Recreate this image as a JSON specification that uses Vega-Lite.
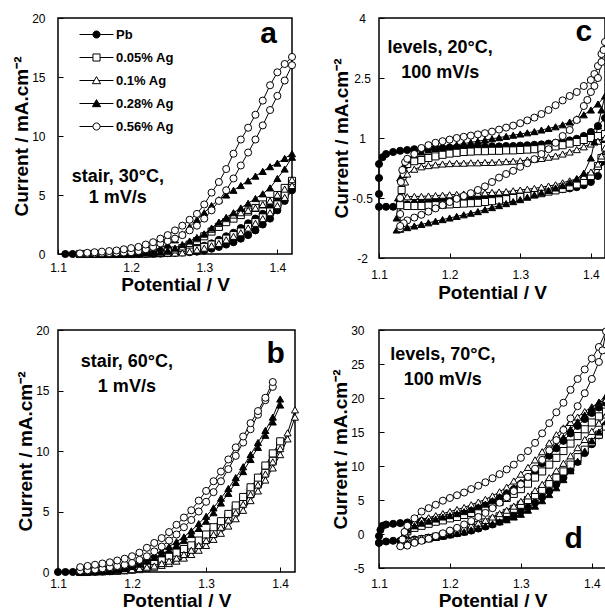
{
"$schema": "https://vega.github.io/schema/vega-lite/v6.json",
"background": "white",
"padding": {"left": 11, "top": 11, "right": 0, "bottom": 0},
"columns": 2,
"spacing": {"row": 20, "column": 28},
"resolve": {"scale": {"shape": "independent", "fill": "independent", "stroke": "independent"}, "legend": {"shape": "independent", "fill": "independent", "stroke": "independent"}},
"config": {
 "view": {"stroke": "black", "strokeWidth": 1.5},
 "font": "Liberation Sans",
 "text": {"font": "Liberation Sans"},
 "axis": {"grid": false, "domain": false, "ticks": true, "tickSize": -5, "tickColor": "black", "tickWidth": 1, "labelFont": "Liberation Sans", "labelFontSize": 12, "labelColor": "black", "titleFont": "Liberation Sans", "titleFontSize": 19, "titleFontWeight": "bold", "titleColor": "black", "labelFlush": false, "labelOverlap": false},
 "axisX": {"titlePadding": 2},
 "axisY": {"titlePadding": 0}
},
"concat": [
{
 "width": 234, "height": 236,
 "data": {"name": "a"},
 "resolve": {"scale": {"shape": "independent", "fill": "independent", "stroke": "independent"}, "legend": {"shape": "independent", "fill": "independent", "stroke": "independent"}},
 "encoding": {
  "x": {"field": "x", "type": "quantitative", "scale": {"domain": [1.1, 1.42], "nice": false, "zero": false}, "axis": {"values": [1.1, 1.2, 1.3, 1.4], "format": ".1f", "title": "Potential / V", "labelPadding": 13}},
  "y": {"field": "y", "type": "quantitative", "scale": {"domain": [0, 20], "nice": false}, "axis": {"values": [0, 5, 10, 15, 20], "title": "Current / mA.cm⁻²", "labelPadding": 18}}
 },
 "layer": [
  {"mark": {"type": "line", "color": "black", "strokeWidth": 1}, "encoding": {"detail": {"field": "s"}, "order": {"value": null}}},
  {"mark": {"type": "point", "filled": true, "stroke": "black", "strokeWidth": 1, "size": 50, "opacity": 1},
   "encoding": {
    "shape": {"field": "s", "type": "nominal", "scale": {"domain": ["Pb", "0.05% Ag", "0.1% Ag", "0.28% Ag", "0.56% Ag"], "range": ["circle", "square", "triangle-up", "triangle-up", "circle"]}, "legend": null},
    "fill": {"field": "s", "type": "nominal", "scale": {"domain": ["Pb", "0.05% Ag", "0.1% Ag", "0.28% Ag", "0.56% Ag"], "range": ["black", "white", "white", "black", "white"]}, "legend": null}
   }},
  {"data": {"values": [{"g": "Pb"}, {"g": "0.05% Ag"}, {"g": "0.1% Ag"}, {"g": "0.28% Ag"}, {"g": "0.56% Ag"}]},
   "mark": {"type": "point", "filled": true, "strokeWidth": 1, "size": 50, "opacity": 0},
   "encoding": {
    "shape": {"field": "g", "type": "nominal", "scale": {"domain": ["Pb", "0.05% Ag", "0.1% Ag", "0.28% Ag", "0.56% Ag"], "range": ["M-4.8,0H-1M1,0H4.8M-1,0A1,1 0 1,0 1,0A1,1 0 1,0 -1,0Z", "M-4.8,0H-1M1,0H4.8M-1,-1H1V1H-1Z", "M-4.8,0H-0.6M0.6,0H4.8M0,-1.1L1.15,0.9H-1.15Z", "M-4.8,0H-0.6M0.6,0H4.8M0,-1.1L1.15,0.9H-1.15Z", "M-4.8,0H-1M1,0H4.8M-1,0A1,1 0 1,0 1,0A1,1 0 1,0 -1,0Z"]},
      "legend": {"title": null, "orient": "none", "legendX": 32, "legendY": 10, "labelFont": "Liberation Sans", "labelFontWeight": "bold", "labelFontSize": 13, "labelColor": "black", "symbolSize": 50, "symbolStrokeWidth": 1, "symbolOpacity": 1, "labelOffset": 13, "rowPadding": 9}},
    "fill": {"field": "g", "type": "nominal", "scale": {"domain": ["Pb", "0.05% Ag", "0.1% Ag", "0.28% Ag", "0.56% Ag"], "range": ["black", "white", "white", "black", "white"]},
      "legend": {"title": null, "orient": "none", "legendX": 32, "legendY": 10, "labelFont": "Liberation Sans", "labelFontWeight": "bold", "labelFontSize": 13, "labelColor": "black", "symbolSize": 50, "symbolStrokeWidth": 1, "symbolOpacity": 1, "labelOffset": 13, "rowPadding": 9}},
    "stroke": {"field": "g", "type": "nominal", "scale": {"domain": ["Pb", "0.05% Ag", "0.1% Ag", "0.28% Ag", "0.56% Ag"], "range": ["black", "black", "black", "black", "black"]},
      "legend": {"title": null, "orient": "none", "legendX": 32, "legendY": 10, "labelFont": "Liberation Sans", "labelFontWeight": "bold", "labelFontSize": 13, "labelColor": "black", "symbolSize": 50, "symbolStrokeWidth": 1, "symbolOpacity": 1, "labelOffset": 13, "rowPadding": 9}}
   }},
  {"data": {"values": [{"t": "stair, 30°C,\n1 mV/s", "x": 1.1818, "y": 6.5}, {"t": "a", "x": 1.388, "y": 18.64}]},
   "mark": {"type": "text", "fontWeight": "bold", "lineHeight": 21, "lineBreak": "\n", "align": "center", "baseline": "middle", "color": "black"},
   "encoding": {"text": {"field": "t", "type": "nominal"}, "size": {"condition": {"test": "datum.t === 'a'", "value": 30}, "value": 18}}}
 ]
},
{
 "width": 226, "height": 240,
 "data": {"name": "c"},
 "encoding": {
  "x": {"field": "x", "type": "quantitative", "scale": {"domain": [1.1, 1.42], "nice": false, "zero": false}, "axis": {"values": [1.1, 1.2, 1.3, 1.4], "format": ".1f", "title": "Potential / V", "labelPadding": 16, "titlePadding": 3}},
  "y": {"field": "y", "type": "quantitative", "scale": {"domain": [-2, 4], "nice": false, "zero": false}, "axis": {"values": [-2, -0.5, 1, 2.5, 4], "labelExpr": "'' + datum.value", "labelAlign": "center", "title": "Current / mA.cm⁻²", "labelPadding": 22}}
 },
 "layer": [
  {"mark": {"type": "line", "color": "black", "strokeWidth": 1}, "encoding": {"detail": {"field": "s"}, "order": {"value": null}}},
  {"mark": {"type": "point", "filled": true, "stroke": "black", "strokeWidth": 1, "size": 50, "opacity": 1},
   "encoding": {
    "shape": {"field": "s", "type": "nominal", "scale": {"domain": ["Pb", "0.05% Ag", "0.1% Ag", "0.28% Ag", "0.56% Ag"], "range": ["circle", "square", "triangle-up", "triangle-up", "circle"]}, "legend": null},
    "fill": {"field": "s", "type": "nominal", "scale": {"domain": ["Pb", "0.05% Ag", "0.1% Ag", "0.28% Ag", "0.56% Ag"], "range": ["black", "white", "white", "black", "white"]}, "legend": null}
   }},
  {"data": {"values": [{"t": "levels, 20°C,\n100 mV/s", "x": 1.1866, "y": 3.25}, {"t": "c", "x": 1.39, "y": 3.65}]},
   "mark": {"type": "text", "fontWeight": "bold", "lineHeight": 25, "lineBreak": "\n", "align": "center", "baseline": "middle", "color": "black"},
   "encoding": {"text": {"field": "t", "type": "nominal"}, "size": {"condition": {"test": "datum.t === 'c'", "value": 30}, "value": 18}}}
 ]
},
{
 "width": 237, "height": 242,
 "data": {"name": "b"},
 "encoding": {
  "x": {"field": "x", "type": "quantitative", "scale": {"domain": [1.1, 1.42], "nice": false, "zero": false}, "axis": {"values": [1.1, 1.2, 1.3, 1.4], "format": ".1f", "title": "Potential / V", "labelPadding": 11}},
  "y": {"field": "y", "type": "quantitative", "scale": {"domain": [0, 20], "nice": false}, "axis": {"values": [0, 5, 10, 15, 20], "title": "Current / mA.cm⁻²", "labelPadding": 14}}
 },
 "layer": [
  {"mark": {"type": "line", "color": "black", "strokeWidth": 1}, "encoding": {"detail": {"field": "s"}, "order": {"value": null}}},
  {"mark": {"type": "point", "filled": true, "stroke": "black", "strokeWidth": 1, "size": 50, "opacity": 1},
   "encoding": {
    "shape": {"field": "s", "type": "nominal", "scale": {"domain": ["Pb", "0.05% Ag", "0.1% Ag", "0.28% Ag", "0.56% Ag"], "range": ["circle", "square", "triangle-up", "triangle-up", "circle"]}, "legend": null},
    "fill": {"field": "s", "type": "nominal", "scale": {"domain": ["Pb", "0.05% Ag", "0.1% Ag", "0.28% Ag", "0.56% Ag"], "range": ["black", "white", "white", "black", "white"]}, "legend": null}
   }},
  {"data": {"values": [{"t": "stair, 60°C,\n1 mV/s", "x": 1.193, "y": 17.35}, {"t": "b", "x": 1.394, "y": 18.0}]},
   "mark": {"type": "text", "fontWeight": "bold", "lineHeight": 25, "lineBreak": "\n", "align": "center", "baseline": "middle", "color": "black"},
   "encoding": {"text": {"field": "t", "type": "nominal"}, "size": {"condition": {"test": "datum.t === 'b'", "value": 30}, "value": 18}}}
 ]
},
{
 "width": 227, "height": 238,
 "data": {"name": "d"},
 "encoding": {
  "x": {"field": "x", "type": "quantitative", "scale": {"domain": [1.1, 1.42], "nice": false, "zero": false}, "axis": {"values": [1.1, 1.2, 1.3, 1.4], "format": ".1f", "title": "Potential / V", "labelPadding": 15}},
  "y": {"field": "y", "type": "quantitative", "scale": {"domain": [-5, 30], "nice": false, "zero": false}, "axis": {"values": [-5, 0, 5, 10, 15, 20, 25, 30], "labelExpr": "'' + datum.value", "title": "Current / mA.cm⁻²", "labelPadding": 20}}
 },
 "layer": [
  {"mark": {"type": "line", "color": "black", "strokeWidth": 1}, "encoding": {"detail": {"field": "s"}, "order": {"value": null}}},
  {"mark": {"type": "point", "filled": true, "stroke": "black", "strokeWidth": 1, "size": 50, "opacity": 1},
   "encoding": {
    "shape": {"field": "s", "type": "nominal", "scale": {"domain": ["Pb", "0.05% Ag", "0.1% Ag", "0.28% Ag", "0.56% Ag"], "range": ["circle", "square", "triangle-up", "triangle-up", "circle"]}, "legend": null},
    "fill": {"field": "s", "type": "nominal", "scale": {"domain": ["Pb", "0.05% Ag", "0.1% Ag", "0.28% Ag", "0.56% Ag"], "range": ["black", "white", "white", "black", "white"]}, "legend": null}
   }},
  {"data": {"values": [{"t": "levels, 70°C,\n100 mV/s", "x": 1.19, "y": 26.3}, {"t": "d", "x": 1.3745, "y": -0.74}]},
   "mark": {"type": "text", "fontWeight": "bold", "lineHeight": 25, "lineBreak": "\n", "align": "center", "baseline": "middle", "color": "black"},
   "encoding": {"text": {"field": "t", "type": "nominal"}, "size": {"condition": {"test": "datum.t === 'd'", "value": 30}, "value": 18}}}
 ]
}
],
"datasets": {
"a": [
{"s":"Pb","x":1.11,"y":0},{"s":"Pb","x":1.12,"y":0},{"s":"Pb","x":1.13,"y":0},{"s":"Pb","x":1.14,"y":0},{"s":"Pb","x":1.15,"y":0},{"s":"Pb","x":1.16,"y":0},{"s":"Pb","x":1.17,"y":0},{"s":"Pb","x":1.18,"y":0},{"s":"Pb","x":1.19,"y":0},{"s":"Pb","x":1.2,"y":0},{"s":"Pb","x":1.21,"y":0},{"s":"Pb","x":1.22,"y":0.02},{"s":"Pb","x":1.23,"y":0.03},{"s":"Pb","x":1.24,"y":0.05},{"s":"Pb","x":1.25,"y":0.07},{"s":"Pb","x":1.26,"y":0.1},{"s":"Pb","x":1.27,"y":0.12},{"s":"Pb","x":1.28,"y":0.15},{"s":"Pb","x":1.29,"y":0.2},{"s":"Pb","x":1.3,"y":0.3},{"s":"Pb","x":1.31,"y":0.45},{"s":"Pb","x":1.32,"y":0.6},{"s":"Pb","x":1.33,"y":0.8},{"s":"Pb","x":1.34,"y":1.0},{"s":"Pb","x":1.35,"y":1.3},{"s":"Pb","x":1.36,"y":1.6},{"s":"Pb","x":1.37,"y":2.0},{"s":"Pb","x":1.38,"y":2.5},{"s":"Pb","x":1.39,"y":3.0},{"s":"Pb","x":1.4,"y":3.7},{"s":"Pb","x":1.41,"y":4.5},{"s":"Pb","x":1.42,"y":5.4},
{"s":"Pb","x":1.42,"y":5.7},{"s":"Pb","x":1.41,"y":5.0},{"s":"Pb","x":1.4,"y":4.4},{"s":"Pb","x":1.39,"y":3.9},{"s":"Pb","x":1.38,"y":3.4},{"s":"Pb","x":1.37,"y":3.0},{"s":"Pb","x":1.36,"y":2.6},{"s":"Pb","x":1.35,"y":2.2},{"s":"Pb","x":1.34,"y":1.8},{"s":"Pb","x":1.33,"y":1.5},{"s":"Pb","x":1.32,"y":1.2},{"s":"Pb","x":1.31,"y":0.9},{"s":"Pb","x":1.3,"y":0.7},{"s":"Pb","x":1.29,"y":0.5},{"s":"Pb","x":1.28,"y":0.35},{"s":"Pb","x":1.27,"y":0.2},{"s":"Pb","x":1.26,"y":0.12},{"s":"Pb","x":1.25,"y":0.08},{"s":"Pb","x":1.24,"y":0.05},
{"s":"0.05% Ag","x":1.13,"y":0},{"s":"0.05% Ag","x":1.14,"y":0},{"s":"0.05% Ag","x":1.15,"y":0},{"s":"0.05% Ag","x":1.16,"y":0},{"s":"0.05% Ag","x":1.17,"y":0},{"s":"0.05% Ag","x":1.18,"y":0},{"s":"0.05% Ag","x":1.19,"y":0},{"s":"0.05% Ag","x":1.2,"y":0},{"s":"0.05% Ag","x":1.21,"y":0.02},{"s":"0.05% Ag","x":1.22,"y":0.03},{"s":"0.05% Ag","x":1.23,"y":0.05},{"s":"0.05% Ag","x":1.24,"y":0.07},{"s":"0.05% Ag","x":1.25,"y":0.1},{"s":"0.05% Ag","x":1.26,"y":0.15},{"s":"0.05% Ag","x":1.27,"y":0.2},{"s":"0.05% Ag","x":1.28,"y":0.3},{"s":"0.05% Ag","x":1.29,"y":0.4},{"s":"0.05% Ag","x":1.3,"y":0.6},{"s":"0.05% Ag","x":1.31,"y":0.8},{"s":"0.05% Ag","x":1.32,"y":1.0},{"s":"0.05% Ag","x":1.33,"y":1.3},{"s":"0.05% Ag","x":1.34,"y":1.6},{"s":"0.05% Ag","x":1.35,"y":1.9},{"s":"0.05% Ag","x":1.36,"y":2.3},{"s":"0.05% Ag","x":1.37,"y":2.7},{"s":"0.05% Ag","x":1.38,"y":3.1},{"s":"0.05% Ag","x":1.39,"y":3.6},{"s":"0.05% Ag","x":1.4,"y":4.2},{"s":"0.05% Ag","x":1.41,"y":5.0},{"s":"0.05% Ag","x":1.42,"y":6.0},
{"s":"0.05% Ag","x":1.42,"y":6.2},{"s":"0.05% Ag","x":1.41,"y":5.6},{"s":"0.05% Ag","x":1.4,"y":5.0},{"s":"0.05% Ag","x":1.39,"y":4.5},{"s":"0.05% Ag","x":1.38,"y":4.2},{"s":"0.05% Ag","x":1.37,"y":3.9},{"s":"0.05% Ag","x":1.36,"y":3.6},{"s":"0.05% Ag","x":1.35,"y":3.3},{"s":"0.05% Ag","x":1.34,"y":3.0},{"s":"0.05% Ag","x":1.33,"y":2.7},{"s":"0.05% Ag","x":1.32,"y":2.3},{"s":"0.05% Ag","x":1.31,"y":1.9},{"s":"0.05% Ag","x":1.3,"y":1.5},{"s":"0.05% Ag","x":1.29,"y":1.1},{"s":"0.05% Ag","x":1.28,"y":0.8},{"s":"0.05% Ag","x":1.27,"y":0.5},{"s":"0.05% Ag","x":1.26,"y":0.3},{"s":"0.05% Ag","x":1.25,"y":0.2},{"s":"0.05% Ag","x":1.24,"y":0.12},{"s":"0.05% Ag","x":1.23,"y":0.08},
{"s":"0.1% Ag","x":1.13,"y":0},{"s":"0.1% Ag","x":1.14,"y":0},{"s":"0.1% Ag","x":1.15,"y":0},{"s":"0.1% Ag","x":1.16,"y":0},{"s":"0.1% Ag","x":1.17,"y":0},{"s":"0.1% Ag","x":1.18,"y":0},{"s":"0.1% Ag","x":1.19,"y":0},{"s":"0.1% Ag","x":1.2,"y":0},{"s":"0.1% Ag","x":1.21,"y":0},{"s":"0.1% Ag","x":1.22,"y":0},{"s":"0.1% Ag","x":1.23,"y":0.02},{"s":"0.1% Ag","x":1.24,"y":0.04},{"s":"0.1% Ag","x":1.25,"y":0.06},{"s":"0.1% Ag","x":1.26,"y":0.08},{"s":"0.1% Ag","x":1.27,"y":0.1},{"s":"0.1% Ag","x":1.28,"y":0.2},{"s":"0.1% Ag","x":1.29,"y":0.35},{"s":"0.1% Ag","x":1.3,"y":0.5},{"s":"0.1% Ag","x":1.31,"y":0.7},{"s":"0.1% Ag","x":1.32,"y":0.9},{"s":"0.1% Ag","x":1.33,"y":1.2},{"s":"0.1% Ag","x":1.34,"y":1.5},{"s":"0.1% Ag","x":1.35,"y":1.8},{"s":"0.1% Ag","x":1.36,"y":2.2},{"s":"0.1% Ag","x":1.37,"y":2.6},{"s":"0.1% Ag","x":1.38,"y":3.0},{"s":"0.1% Ag","x":1.39,"y":3.5},{"s":"0.1% Ag","x":1.4,"y":4.1},{"s":"0.1% Ag","x":1.41,"y":4.8},{"s":"0.1% Ag","x":1.42,"y":5.8},
{"s":"0.1% Ag","x":1.42,"y":6.3},{"s":"0.1% Ag","x":1.41,"y":5.5},{"s":"0.1% Ag","x":1.4,"y":5.0},{"s":"0.1% Ag","x":1.39,"y":4.5},{"s":"0.1% Ag","x":1.38,"y":4.2},{"s":"0.1% Ag","x":1.37,"y":3.9},{"s":"0.1% Ag","x":1.36,"y":3.7},{"s":"0.1% Ag","x":1.35,"y":3.5},{"s":"0.1% Ag","x":1.34,"y":3.3},{"s":"0.1% Ag","x":1.33,"y":3.0},{"s":"0.1% Ag","x":1.32,"y":2.6},{"s":"0.1% Ag","x":1.31,"y":2.1},{"s":"0.1% Ag","x":1.3,"y":1.7},{"s":"0.1% Ag","x":1.29,"y":1.3},{"s":"0.1% Ag","x":1.28,"y":0.9},{"s":"0.1% Ag","x":1.27,"y":0.6},{"s":"0.1% Ag","x":1.26,"y":0.35},{"s":"0.1% Ag","x":1.25,"y":0.2},{"s":"0.1% Ag","x":1.24,"y":0.1},{"s":"0.1% Ag","x":1.23,"y":0.05},
{"s":"0.28% Ag","x":1.13,"y":0},{"s":"0.28% Ag","x":1.14,"y":0},{"s":"0.28% Ag","x":1.15,"y":0},{"s":"0.28% Ag","x":1.16,"y":0},{"s":"0.28% Ag","x":1.17,"y":0},{"s":"0.28% Ag","x":1.18,"y":0},{"s":"0.28% Ag","x":1.19,"y":0.01},{"s":"0.28% Ag","x":1.2,"y":0.02},{"s":"0.28% Ag","x":1.21,"y":0.05},{"s":"0.28% Ag","x":1.22,"y":0.08},{"s":"0.28% Ag","x":1.23,"y":0.12},{"s":"0.28% Ag","x":1.24,"y":0.18},{"s":"0.28% Ag","x":1.25,"y":0.3},{"s":"0.28% Ag","x":1.26,"y":0.5},{"s":"0.28% Ag","x":1.27,"y":0.8},{"s":"0.28% Ag","x":1.28,"y":1.1},{"s":"0.28% Ag","x":1.29,"y":1.4},{"s":"0.28% Ag","x":1.3,"y":1.7},{"s":"0.28% Ag","x":1.31,"y":2.2},{"s":"0.28% Ag","x":1.32,"y":2.7},{"s":"0.28% Ag","x":1.33,"y":3.1},{"s":"0.28% Ag","x":1.34,"y":3.5},{"s":"0.28% Ag","x":1.35,"y":3.9},{"s":"0.28% Ag","x":1.36,"y":4.3},{"s":"0.28% Ag","x":1.37,"y":4.7},{"s":"0.28% Ag","x":1.38,"y":5.1},{"s":"0.28% Ag","x":1.39,"y":5.6},{"s":"0.28% Ag","x":1.4,"y":6.4},{"s":"0.28% Ag","x":1.41,"y":7.2},{"s":"0.28% Ag","x":1.42,"y":8.2},
{"s":"0.28% Ag","x":1.42,"y":8.5},{"s":"0.28% Ag","x":1.41,"y":8.1},{"s":"0.28% Ag","x":1.4,"y":7.7},{"s":"0.28% Ag","x":1.39,"y":7.4},{"s":"0.28% Ag","x":1.38,"y":7.0},{"s":"0.28% Ag","x":1.37,"y":6.6},{"s":"0.28% Ag","x":1.36,"y":6.2},{"s":"0.28% Ag","x":1.35,"y":5.8},{"s":"0.28% Ag","x":1.34,"y":5.4},{"s":"0.28% Ag","x":1.33,"y":5.0},{"s":"0.28% Ag","x":1.32,"y":4.6},{"s":"0.28% Ag","x":1.31,"y":4.1},{"s":"0.28% Ag","x":1.3,"y":3.5},{"s":"0.28% Ag","x":1.29,"y":2.9},{"s":"0.28% Ag","x":1.28,"y":2.3},{"s":"0.28% Ag","x":1.27,"y":1.7},{"s":"0.28% Ag","x":1.26,"y":1.2},{"s":"0.28% Ag","x":1.25,"y":0.8},{"s":"0.28% Ag","x":1.24,"y":0.5},{"s":"0.28% Ag","x":1.23,"y":0.35},{"s":"0.28% Ag","x":1.22,"y":0.25},{"s":"0.28% Ag","x":1.21,"y":0.15},{"s":"0.28% Ag","x":1.2,"y":0.1},
{"s":"0.56% Ag","x":1.13,"y":0},{"s":"0.56% Ag","x":1.14,"y":0.02},{"s":"0.56% Ag","x":1.15,"y":0.04},{"s":"0.56% Ag","x":1.16,"y":0.06},{"s":"0.56% Ag","x":1.17,"y":0.08},{"s":"0.56% Ag","x":1.18,"y":0.1},{"s":"0.56% Ag","x":1.19,"y":0.12},{"s":"0.56% Ag","x":1.2,"y":0.15},{"s":"0.56% Ag","x":1.21,"y":0.25},{"s":"0.56% Ag","x":1.22,"y":0.4},{"s":"0.56% Ag","x":1.23,"y":0.6},{"s":"0.56% Ag","x":1.24,"y":0.9},{"s":"0.56% Ag","x":1.25,"y":1.1},{"s":"0.56% Ag","x":1.26,"y":1.3},{"s":"0.56% Ag","x":1.27,"y":1.6},{"s":"0.56% Ag","x":1.28,"y":2.0},{"s":"0.56% Ag","x":1.29,"y":2.4},{"s":"0.56% Ag","x":1.3,"y":3.0},{"s":"0.56% Ag","x":1.31,"y":3.7},{"s":"0.56% Ag","x":1.32,"y":4.5},{"s":"0.56% Ag","x":1.33,"y":5.4},{"s":"0.56% Ag","x":1.34,"y":6.4},{"s":"0.56% Ag","x":1.35,"y":7.5},{"s":"0.56% Ag","x":1.36,"y":8.6},{"s":"0.56% Ag","x":1.37,"y":9.7},{"s":"0.56% Ag","x":1.38,"y":10.9},{"s":"0.56% Ag","x":1.39,"y":12.2},{"s":"0.56% Ag","x":1.4,"y":13.4},{"s":"0.56% Ag","x":1.41,"y":14.7},{"s":"0.56% Ag","x":1.42,"y":16.0},
{"s":"0.56% Ag","x":1.42,"y":16.7},{"s":"0.56% Ag","x":1.41,"y":16.1},{"s":"0.56% Ag","x":1.4,"y":15.4},{"s":"0.56% Ag","x":1.39,"y":14.3},{"s":"0.56% Ag","x":1.38,"y":13.0},{"s":"0.56% Ag","x":1.37,"y":11.8},{"s":"0.56% Ag","x":1.36,"y":10.7},{"s":"0.56% Ag","x":1.35,"y":9.7},{"s":"0.56% Ag","x":1.34,"y":8.5},{"s":"0.56% Ag","x":1.33,"y":7.2},{"s":"0.56% Ag","x":1.32,"y":6.1},{"s":"0.56% Ag","x":1.31,"y":5.2},{"s":"0.56% Ag","x":1.3,"y":4.2},{"s":"0.56% Ag","x":1.29,"y":3.4},{"s":"0.56% Ag","x":1.28,"y":2.9},{"s":"0.56% Ag","x":1.27,"y":2.4},{"s":"0.56% Ag","x":1.26,"y":2.0},{"s":"0.56% Ag","x":1.25,"y":1.6},{"s":"0.56% Ag","x":1.24,"y":1.3},{"s":"0.56% Ag","x":1.23,"y":1.0},{"s":"0.56% Ag","x":1.22,"y":0.8},{"s":"0.56% Ag","x":1.21,"y":0.6},{"s":"0.56% Ag","x":1.2,"y":0.5},{"s":"0.56% Ag","x":1.19,"y":0.4},{"s":"0.56% Ag","x":1.18,"y":0.3},{"s":"0.56% Ag","x":1.17,"y":0.25},{"s":"0.56% Ag","x":1.16,"y":0.2},{"s":"0.56% Ag","x":1.15,"y":0.15},{"s":"0.56% Ag","x":1.14,"y":0.1},{"s":"0.56% Ag","x":1.13,"y":0.05}
],
"b": [
{"s":"Pb","x":1.1,"y":0},{"s":"Pb","x":1.11,"y":0},{"s":"Pb","x":1.12,"y":0},{"s":"Pb","x":1.13,"y":0},{"s":"Pb","x":1.14,"y":0},{"s":"Pb","x":1.15,"y":0.02},{"s":"Pb","x":1.16,"y":0.04},{"s":"Pb","x":1.17,"y":0.06},{"s":"Pb","x":1.18,"y":0.1},{"s":"Pb","x":1.19,"y":0.15},{"s":"Pb","x":1.2,"y":0.2},{"s":"Pb","x":1.21,"y":0.3},{"s":"Pb","x":1.22,"y":0.4},{"s":"Pb","x":1.23,"y":0.55},{"s":"Pb","x":1.24,"y":0.7},{"s":"Pb","x":1.25,"y":0.9},{"s":"Pb","x":1.26,"y":1.15},{"s":"Pb","x":1.27,"y":1.45},{"s":"Pb","x":1.28,"y":1.8},{"s":"Pb","x":1.29,"y":2.2},{"s":"Pb","x":1.3,"y":2.7},{"s":"Pb","x":1.31,"y":3.2},{"s":"Pb","x":1.32,"y":3.8},{"s":"Pb","x":1.33,"y":4.4},{"s":"Pb","x":1.34,"y":5.1},{"s":"Pb","x":1.35,"y":5.8},{"s":"Pb","x":1.36,"y":6.6},{"s":"Pb","x":1.37,"y":7.4},{"s":"Pb","x":1.38,"y":8.3},{"s":"Pb","x":1.39,"y":9.3},{"s":"Pb","x":1.4,"y":10.4},
{"s":"Pb","x":1.4,"y":10.6},{"s":"Pb","x":1.39,"y":9.6},{"s":"Pb","x":1.38,"y":8.6},{"s":"Pb","x":1.37,"y":7.7},{"s":"Pb","x":1.36,"y":6.9},{"s":"Pb","x":1.35,"y":6.1},{"s":"Pb","x":1.34,"y":5.4},{"s":"Pb","x":1.33,"y":4.7},{"s":"Pb","x":1.32,"y":4.1},{"s":"Pb","x":1.31,"y":3.5},{"s":"Pb","x":1.3,"y":3.0},{"s":"Pb","x":1.29,"y":2.5},{"s":"Pb","x":1.28,"y":2.1},{"s":"Pb","x":1.27,"y":1.7},{"s":"Pb","x":1.26,"y":1.4},{"s":"Pb","x":1.25,"y":1.1},{"s":"Pb","x":1.24,"y":0.85},{"s":"Pb","x":1.23,"y":0.65},{"s":"Pb","x":1.22,"y":0.5},{"s":"Pb","x":1.21,"y":0.35},{"s":"Pb","x":1.2,"y":0.25},
{"s":"0.05% Ag","x":1.13,"y":0},{"s":"0.05% Ag","x":1.14,"y":0.02},{"s":"0.05% Ag","x":1.15,"y":0.04},{"s":"0.05% Ag","x":1.16,"y":0.06},{"s":"0.05% Ag","x":1.17,"y":0.08},{"s":"0.05% Ag","x":1.18,"y":0.12},{"s":"0.05% Ag","x":1.19,"y":0.18},{"s":"0.05% Ag","x":1.2,"y":0.25},{"s":"0.05% Ag","x":1.21,"y":0.35},{"s":"0.05% Ag","x":1.22,"y":0.5},{"s":"0.05% Ag","x":1.23,"y":0.65},{"s":"0.05% Ag","x":1.24,"y":0.85},{"s":"0.05% Ag","x":1.25,"y":1.05},{"s":"0.05% Ag","x":1.26,"y":1.3},{"s":"0.05% Ag","x":1.27,"y":1.6},{"s":"0.05% Ag","x":1.28,"y":1.95},{"s":"0.05% Ag","x":1.29,"y":2.35},{"s":"0.05% Ag","x":1.3,"y":2.8},{"s":"0.05% Ag","x":1.31,"y":3.3},{"s":"0.05% Ag","x":1.32,"y":3.9},{"s":"0.05% Ag","x":1.33,"y":4.5},{"s":"0.05% Ag","x":1.34,"y":5.1},{"s":"0.05% Ag","x":1.35,"y":5.8},{"s":"0.05% Ag","x":1.36,"y":6.5},{"s":"0.05% Ag","x":1.37,"y":7.3},{"s":"0.05% Ag","x":1.38,"y":8.2},{"s":"0.05% Ag","x":1.39,"y":9.2},{"s":"0.05% Ag","x":1.4,"y":10.4},
{"s":"0.05% Ag","x":1.4,"y":10.8},{"s":"0.05% Ag","x":1.39,"y":9.8},{"s":"0.05% Ag","x":1.38,"y":8.8},{"s":"0.05% Ag","x":1.37,"y":7.8},{"s":"0.05% Ag","x":1.36,"y":7.0},{"s":"0.05% Ag","x":1.35,"y":6.2},{"s":"0.05% Ag","x":1.34,"y":5.5},{"s":"0.05% Ag","x":1.33,"y":4.8},{"s":"0.05% Ag","x":1.32,"y":4.2},{"s":"0.05% Ag","x":1.31,"y":3.7},{"s":"0.05% Ag","x":1.3,"y":3.1},{"s":"0.05% Ag","x":1.29,"y":2.6},{"s":"0.05% Ag","x":1.28,"y":2.2},{"s":"0.05% Ag","x":1.27,"y":1.9},{"s":"0.05% Ag","x":1.26,"y":1.6},{"s":"0.05% Ag","x":1.25,"y":1.35},{"s":"0.05% Ag","x":1.24,"y":1.1},{"s":"0.05% Ag","x":1.23,"y":0.9},{"s":"0.05% Ag","x":1.22,"y":0.7},{"s":"0.05% Ag","x":1.21,"y":0.5},{"s":"0.05% Ag","x":1.2,"y":0.4},{"s":"0.05% Ag","x":1.19,"y":0.3},{"s":"0.05% Ag","x":1.18,"y":0.2},{"s":"0.05% Ag","x":1.17,"y":0.15},{"s":"0.05% Ag","x":1.16,"y":0.12},{"s":"0.05% Ag","x":1.15,"y":0.1},{"s":"0.05% Ag","x":1.14,"y":0.08},{"s":"0.05% Ag","x":1.13,"y":0.05},
{"s":"0.1% Ag","x":1.13,"y":0},{"s":"0.1% Ag","x":1.14,"y":0},{"s":"0.1% Ag","x":1.15,"y":0.02},{"s":"0.1% Ag","x":1.16,"y":0.03},{"s":"0.1% Ag","x":1.17,"y":0.05},{"s":"0.1% Ag","x":1.18,"y":0.07},{"s":"0.1% Ag","x":1.19,"y":0.1},{"s":"0.1% Ag","x":1.2,"y":0.15},{"s":"0.1% Ag","x":1.21,"y":0.2},{"s":"0.1% Ag","x":1.22,"y":0.3},{"s":"0.1% Ag","x":1.23,"y":0.4},{"s":"0.1% Ag","x":1.24,"y":0.55},{"s":"0.1% Ag","x":1.25,"y":0.7},{"s":"0.1% Ag","x":1.26,"y":0.9},{"s":"0.1% Ag","x":1.27,"y":1.15},{"s":"0.1% Ag","x":1.28,"y":1.45},{"s":"0.1% Ag","x":1.29,"y":1.8},{"s":"0.1% Ag","x":1.3,"y":2.2},{"s":"0.1% Ag","x":1.31,"y":2.7},{"s":"0.1% Ag","x":1.32,"y":3.2},{"s":"0.1% Ag","x":1.33,"y":3.8},{"s":"0.1% Ag","x":1.34,"y":4.4},{"s":"0.1% Ag","x":1.35,"y":5.1},{"s":"0.1% Ag","x":1.36,"y":5.9},{"s":"0.1% Ag","x":1.37,"y":6.7},{"s":"0.1% Ag","x":1.38,"y":7.6},{"s":"0.1% Ag","x":1.39,"y":8.6},{"s":"0.1% Ag","x":1.4,"y":9.7},{"s":"0.1% Ag","x":1.41,"y":11.0},{"s":"0.1% Ag","x":1.42,"y":12.8},
{"s":"0.1% Ag","x":1.42,"y":13.4},{"s":"0.1% Ag","x":1.41,"y":11.5},{"s":"0.1% Ag","x":1.4,"y":10.2},{"s":"0.1% Ag","x":1.39,"y":9.1},{"s":"0.1% Ag","x":1.38,"y":8.1},{"s":"0.1% Ag","x":1.37,"y":7.2},{"s":"0.1% Ag","x":1.36,"y":6.4},{"s":"0.1% Ag","x":1.35,"y":5.6},{"s":"0.1% Ag","x":1.34,"y":4.9},{"s":"0.1% Ag","x":1.33,"y":4.3},{"s":"0.1% Ag","x":1.32,"y":3.7},{"s":"0.1% Ag","x":1.31,"y":3.1},{"s":"0.1% Ag","x":1.3,"y":2.6},{"s":"0.1% Ag","x":1.29,"y":2.2},{"s":"0.1% Ag","x":1.28,"y":1.8},{"s":"0.1% Ag","x":1.27,"y":1.45},{"s":"0.1% Ag","x":1.26,"y":1.15},{"s":"0.1% Ag","x":1.25,"y":0.9},{"s":"0.1% Ag","x":1.24,"y":0.7},{"s":"0.1% Ag","x":1.23,"y":0.5},{"s":"0.1% Ag","x":1.22,"y":0.4},{"s":"0.1% Ag","x":1.21,"y":0.3},{"s":"0.1% Ag","x":1.2,"y":0.2},{"s":"0.1% Ag","x":1.19,"y":0.15},{"s":"0.1% Ag","x":1.18,"y":0.12},{"s":"0.1% Ag","x":1.17,"y":0.1},{"s":"0.1% Ag","x":1.16,"y":0.08},{"s":"0.1% Ag","x":1.15,"y":0.05},
{"s":"0.28% Ag","x":1.13,"y":0},{"s":"0.28% Ag","x":1.14,"y":0.02},{"s":"0.28% Ag","x":1.15,"y":0.05},{"s":"0.28% Ag","x":1.16,"y":0.08},{"s":"0.28% Ag","x":1.17,"y":0.12},{"s":"0.28% Ag","x":1.18,"y":0.2},{"s":"0.28% Ag","x":1.19,"y":0.3},{"s":"0.28% Ag","x":1.2,"y":0.45},{"s":"0.28% Ag","x":1.21,"y":0.65},{"s":"0.28% Ag","x":1.22,"y":0.9},{"s":"0.28% Ag","x":1.23,"y":1.2},{"s":"0.28% Ag","x":1.24,"y":1.5},{"s":"0.28% Ag","x":1.25,"y":1.8},{"s":"0.28% Ag","x":1.26,"y":2.2},{"s":"0.28% Ag","x":1.27,"y":2.6},{"s":"0.28% Ag","x":1.28,"y":3.1},{"s":"0.28% Ag","x":1.29,"y":3.6},{"s":"0.28% Ag","x":1.3,"y":4.2},{"s":"0.28% Ag","x":1.31,"y":4.9},{"s":"0.28% Ag","x":1.32,"y":5.7},{"s":"0.28% Ag","x":1.33,"y":6.5},{"s":"0.28% Ag","x":1.34,"y":7.4},{"s":"0.28% Ag","x":1.35,"y":8.3},{"s":"0.28% Ag","x":1.36,"y":9.3},{"s":"0.28% Ag","x":1.37,"y":10.3},{"s":"0.28% Ag","x":1.38,"y":11.3},{"s":"0.28% Ag","x":1.39,"y":12.4},{"s":"0.28% Ag","x":1.4,"y":13.8},
{"s":"0.28% Ag","x":1.4,"y":14.3},{"s":"0.28% Ag","x":1.39,"y":12.8},{"s":"0.28% Ag","x":1.38,"y":11.7},{"s":"0.28% Ag","x":1.37,"y":10.7},{"s":"0.28% Ag","x":1.36,"y":9.7},{"s":"0.28% Ag","x":1.35,"y":8.7},{"s":"0.28% Ag","x":1.34,"y":7.8},{"s":"0.28% Ag","x":1.33,"y":6.9},{"s":"0.28% Ag","x":1.32,"y":6.1},{"s":"0.28% Ag","x":1.31,"y":5.3},{"s":"0.28% Ag","x":1.3,"y":4.6},{"s":"0.28% Ag","x":1.29,"y":4.0},{"s":"0.28% Ag","x":1.28,"y":3.4},{"s":"0.28% Ag","x":1.27,"y":2.9},{"s":"0.28% Ag","x":1.26,"y":2.5},{"s":"0.28% Ag","x":1.25,"y":2.1},{"s":"0.28% Ag","x":1.24,"y":1.75},{"s":"0.28% Ag","x":1.23,"y":1.45},{"s":"0.28% Ag","x":1.22,"y":1.15},{"s":"0.28% Ag","x":1.21,"y":0.85},{"s":"0.28% Ag","x":1.2,"y":0.6},{"s":"0.28% Ag","x":1.19,"y":0.45},{"s":"0.28% Ag","x":1.18,"y":0.3},{"s":"0.28% Ag","x":1.17,"y":0.2},{"s":"0.28% Ag","x":1.16,"y":0.15},{"s":"0.28% Ag","x":1.15,"y":0.1},
{"s":"0.56% Ag","x":1.13,"y":0.1},{"s":"0.56% Ag","x":1.14,"y":0.15},{"s":"0.56% Ag","x":1.15,"y":0.2},{"s":"0.56% Ag","x":1.16,"y":0.3},{"s":"0.56% Ag","x":1.17,"y":0.4},{"s":"0.56% Ag","x":1.18,"y":0.5},{"s":"0.56% Ag","x":1.19,"y":0.6},{"s":"0.56% Ag","x":1.2,"y":0.75},{"s":"0.56% Ag","x":1.21,"y":1.0},{"s":"0.56% Ag","x":1.22,"y":1.3},{"s":"0.56% Ag","x":1.23,"y":1.7},{"s":"0.56% Ag","x":1.24,"y":2.1},{"s":"0.56% Ag","x":1.25,"y":2.6},{"s":"0.56% Ag","x":1.26,"y":3.1},{"s":"0.56% Ag","x":1.27,"y":3.7},{"s":"0.56% Ag","x":1.28,"y":4.3},{"s":"0.56% Ag","x":1.29,"y":5.0},{"s":"0.56% Ag","x":1.3,"y":5.8},{"s":"0.56% Ag","x":1.31,"y":6.6},{"s":"0.56% Ag","x":1.32,"y":7.5},{"s":"0.56% Ag","x":1.33,"y":8.5},{"s":"0.56% Ag","x":1.34,"y":9.6},{"s":"0.56% Ag","x":1.35,"y":10.7},{"s":"0.56% Ag","x":1.36,"y":11.8},{"s":"0.56% Ag","x":1.37,"y":13.0},{"s":"0.56% Ag","x":1.38,"y":14.2},{"s":"0.56% Ag","x":1.39,"y":15.3},
{"s":"0.56% Ag","x":1.39,"y":15.7},{"s":"0.56% Ag","x":1.38,"y":14.4},{"s":"0.56% Ag","x":1.37,"y":13.3},{"s":"0.56% Ag","x":1.36,"y":12.3},{"s":"0.56% Ag","x":1.35,"y":11.2},{"s":"0.56% Ag","x":1.34,"y":10.3},{"s":"0.56% Ag","x":1.33,"y":9.3},{"s":"0.56% Ag","x":1.32,"y":8.3},{"s":"0.56% Ag","x":1.31,"y":7.5},{"s":"0.56% Ag","x":1.3,"y":6.7},{"s":"0.56% Ag","x":1.29,"y":5.9},{"s":"0.56% Ag","x":1.28,"y":5.1},{"s":"0.56% Ag","x":1.27,"y":4.5},{"s":"0.56% Ag","x":1.26,"y":3.9},{"s":"0.56% Ag","x":1.25,"y":3.3},{"s":"0.56% Ag","x":1.24,"y":2.8},{"s":"0.56% Ag","x":1.23,"y":2.4},{"s":"0.56% Ag","x":1.22,"y":2.0},{"s":"0.56% Ag","x":1.21,"y":1.6},{"s":"0.56% Ag","x":1.2,"y":1.3},{"s":"0.56% Ag","x":1.19,"y":1.1},{"s":"0.56% Ag","x":1.18,"y":0.95},{"s":"0.56% Ag","x":1.17,"y":0.8},{"s":"0.56% Ag","x":1.16,"y":0.7},{"s":"0.56% Ag","x":1.15,"y":0.6},{"s":"0.56% Ag","x":1.14,"y":0.5},{"s":"0.56% Ag","x":1.13,"y":0.4}
],
"c": [
{"s":"Pb","x":1.1,"y":-0.72},{"s":"Pb","x":1.1,"y":-0.4},{"s":"Pb","x":1.1,"y":0.0},{"s":"Pb","x":1.1,"y":0.35},{"s":"Pb","x":1.105,"y":0.52},{"s":"Pb","x":1.11,"y":0.6},{"s":"Pb","x":1.12,"y":0.65},{"s":"Pb","x":1.13,"y":0.68},{"s":"Pb","x":1.14,"y":0.7},{"s":"Pb","x":1.15,"y":0.72},{"s":"Pb","x":1.16,"y":0.73},{"s":"Pb","x":1.17,"y":0.74},{"s":"Pb","x":1.18,"y":0.75},{"s":"Pb","x":1.19,"y":0.75},{"s":"Pb","x":1.2,"y":0.76},{"s":"Pb","x":1.21,"y":0.76},{"s":"Pb","x":1.22,"y":0.77},{"s":"Pb","x":1.23,"y":0.77},{"s":"Pb","x":1.24,"y":0.78},{"s":"Pb","x":1.25,"y":0.78},{"s":"Pb","x":1.26,"y":0.79},{"s":"Pb","x":1.27,"y":0.79},{"s":"Pb","x":1.28,"y":0.8},{"s":"Pb","x":1.29,"y":0.8},{"s":"Pb","x":1.3,"y":0.81},{"s":"Pb","x":1.31,"y":0.82},{"s":"Pb","x":1.32,"y":0.83},{"s":"Pb","x":1.33,"y":0.84},{"s":"Pb","x":1.34,"y":0.86},{"s":"Pb","x":1.35,"y":0.88},{"s":"Pb","x":1.36,"y":0.9},{"s":"Pb","x":1.37,"y":0.94},{"s":"Pb","x":1.38,"y":0.98},{"s":"Pb","x":1.39,"y":1.05},{"s":"Pb","x":1.4,"y":1.15},{"s":"Pb","x":1.41,"y":1.3},{"s":"Pb","x":1.42,"y":1.5},
{"s":"Pb","x":1.42,"y":0.9},{"s":"Pb","x":1.415,"y":0.4},{"s":"Pb","x":1.41,"y":0.05},{"s":"Pb","x":1.4,"y":-0.1},{"s":"Pb","x":1.39,"y":-0.18},{"s":"Pb","x":1.38,"y":-0.23},{"s":"Pb","x":1.37,"y":-0.26},{"s":"Pb","x":1.36,"y":-0.28},{"s":"Pb","x":1.35,"y":-0.3},{"s":"Pb","x":1.34,"y":-0.32},{"s":"Pb","x":1.33,"y":-0.34},{"s":"Pb","x":1.32,"y":-0.36},{"s":"Pb","x":1.31,"y":-0.38},{"s":"Pb","x":1.3,"y":-0.4},{"s":"Pb","x":1.29,"y":-0.41},{"s":"Pb","x":1.28,"y":-0.43},{"s":"Pb","x":1.27,"y":-0.44},{"s":"Pb","x":1.26,"y":-0.46},{"s":"Pb","x":1.25,"y":-0.47},{"s":"Pb","x":1.24,"y":-0.49},{"s":"Pb","x":1.23,"y":-0.5},{"s":"Pb","x":1.22,"y":-0.52},{"s":"Pb","x":1.21,"y":-0.53},{"s":"Pb","x":1.2,"y":-0.55},{"s":"Pb","x":1.19,"y":-0.56},{"s":"Pb","x":1.18,"y":-0.58},{"s":"Pb","x":1.17,"y":-0.6},{"s":"Pb","x":1.16,"y":-0.62},{"s":"Pb","x":1.15,"y":-0.64},{"s":"Pb","x":1.14,"y":-0.66},{"s":"Pb","x":1.13,"y":-0.69},{"s":"Pb","x":1.12,"y":-0.72},{"s":"Pb","x":1.11,"y":-0.72},
{"s":"0.05% Ag","x":1.13,"y":-0.65},{"s":"0.05% Ag","x":1.132,"y":-0.3},{"s":"0.05% Ag","x":1.135,"y":0.1},{"s":"0.05% Ag","x":1.14,"y":0.35},{"s":"0.05% Ag","x":1.15,"y":0.42},{"s":"0.05% Ag","x":1.16,"y":0.45},{"s":"0.05% Ag","x":1.17,"y":0.5},{"s":"0.05% Ag","x":1.18,"y":0.54},{"s":"0.05% Ag","x":1.19,"y":0.58},{"s":"0.05% Ag","x":1.2,"y":0.61},{"s":"0.05% Ag","x":1.21,"y":0.63},{"s":"0.05% Ag","x":1.22,"y":0.65},{"s":"0.05% Ag","x":1.23,"y":0.66},{"s":"0.05% Ag","x":1.24,"y":0.67},{"s":"0.05% Ag","x":1.25,"y":0.67},{"s":"0.05% Ag","x":1.26,"y":0.68},{"s":"0.05% Ag","x":1.27,"y":0.68},{"s":"0.05% Ag","x":1.28,"y":0.69},{"s":"0.05% Ag","x":1.29,"y":0.69},{"s":"0.05% Ag","x":1.3,"y":0.7},{"s":"0.05% Ag","x":1.31,"y":0.71},{"s":"0.05% Ag","x":1.32,"y":0.72},{"s":"0.05% Ag","x":1.33,"y":0.74},{"s":"0.05% Ag","x":1.34,"y":0.76},{"s":"0.05% Ag","x":1.35,"y":0.79},{"s":"0.05% Ag","x":1.36,"y":0.82},{"s":"0.05% Ag","x":1.37,"y":0.86},{"s":"0.05% Ag","x":1.38,"y":0.9},{"s":"0.05% Ag","x":1.39,"y":0.95},{"s":"0.05% Ag","x":1.4,"y":1.0},{"s":"0.05% Ag","x":1.41,"y":1.05},{"s":"0.05% Ag","x":1.42,"y":1.1},
{"s":"0.05% Ag","x":1.42,"y":0.8},{"s":"0.05% Ag","x":1.415,"y":0.5},{"s":"0.05% Ag","x":1.41,"y":0.3},{"s":"0.05% Ag","x":1.4,"y":0.05},{"s":"0.05% Ag","x":1.39,"y":-0.09},{"s":"0.05% Ag","x":1.38,"y":-0.16},{"s":"0.05% Ag","x":1.37,"y":-0.22},{"s":"0.05% Ag","x":1.36,"y":-0.27},{"s":"0.05% Ag","x":1.35,"y":-0.31},{"s":"0.05% Ag","x":1.34,"y":-0.34},{"s":"0.05% Ag","x":1.33,"y":-0.38},{"s":"0.05% Ag","x":1.32,"y":-0.41},{"s":"0.05% Ag","x":1.31,"y":-0.44},{"s":"0.05% Ag","x":1.3,"y":-0.47},{"s":"0.05% Ag","x":1.29,"y":-0.5},{"s":"0.05% Ag","x":1.28,"y":-0.53},{"s":"0.05% Ag","x":1.27,"y":-0.56},{"s":"0.05% Ag","x":1.26,"y":-0.58},{"s":"0.05% Ag","x":1.25,"y":-0.6},{"s":"0.05% Ag","x":1.24,"y":-0.62},{"s":"0.05% Ag","x":1.23,"y":-0.63},{"s":"0.05% Ag","x":1.22,"y":-0.64},{"s":"0.05% Ag","x":1.21,"y":-0.65},{"s":"0.05% Ag","x":1.2,"y":-0.66},{"s":"0.05% Ag","x":1.19,"y":-0.67},{"s":"0.05% Ag","x":1.18,"y":-0.68},{"s":"0.05% Ag","x":1.17,"y":-0.69},{"s":"0.05% Ag","x":1.16,"y":-0.7},{"s":"0.05% Ag","x":1.15,"y":-0.7},{"s":"0.05% Ag","x":1.14,"y":-0.7},{"s":"0.05% Ag","x":1.13,"y":-0.68},
{"s":"0.1% Ag","x":1.135,"y":-0.45},{"s":"0.1% Ag","x":1.137,"y":-0.1},{"s":"0.1% Ag","x":1.14,"y":0.1},{"s":"0.1% Ag","x":1.15,"y":0.22},{"s":"0.1% Ag","x":1.16,"y":0.28},{"s":"0.1% Ag","x":1.17,"y":0.31},{"s":"0.1% Ag","x":1.18,"y":0.33},{"s":"0.1% Ag","x":1.19,"y":0.35},{"s":"0.1% Ag","x":1.2,"y":0.36},{"s":"0.1% Ag","x":1.21,"y":0.37},{"s":"0.1% Ag","x":1.22,"y":0.37},{"s":"0.1% Ag","x":1.23,"y":0.38},{"s":"0.1% Ag","x":1.24,"y":0.38},{"s":"0.1% Ag","x":1.25,"y":0.39},{"s":"0.1% Ag","x":1.26,"y":0.39},{"s":"0.1% Ag","x":1.27,"y":0.4},{"s":"0.1% Ag","x":1.28,"y":0.41},{"s":"0.1% Ag","x":1.29,"y":0.42},{"s":"0.1% Ag","x":1.3,"y":0.43},{"s":"0.1% Ag","x":1.31,"y":0.45},{"s":"0.1% Ag","x":1.32,"y":0.47},{"s":"0.1% Ag","x":1.33,"y":0.49},{"s":"0.1% Ag","x":1.34,"y":0.52},{"s":"0.1% Ag","x":1.35,"y":0.55},{"s":"0.1% Ag","x":1.36,"y":0.6},{"s":"0.1% Ag","x":1.37,"y":0.65},{"s":"0.1% Ag","x":1.38,"y":0.71},{"s":"0.1% Ag","x":1.39,"y":0.78},{"s":"0.1% Ag","x":1.4,"y":0.85},{"s":"0.1% Ag","x":1.41,"y":0.92},{"s":"0.1% Ag","x":1.42,"y":1.0},
{"s":"0.1% Ag","x":1.42,"y":0.75},{"s":"0.1% Ag","x":1.415,"y":0.55},{"s":"0.1% Ag","x":1.41,"y":0.35},{"s":"0.1% Ag","x":1.4,"y":0.15},{"s":"0.1% Ag","x":1.39,"y":0.04},{"s":"0.1% Ag","x":1.38,"y":-0.02},{"s":"0.1% Ag","x":1.37,"y":-0.07},{"s":"0.1% Ag","x":1.36,"y":-0.12},{"s":"0.1% Ag","x":1.35,"y":-0.17},{"s":"0.1% Ag","x":1.34,"y":-0.2},{"s":"0.1% Ag","x":1.33,"y":-0.23},{"s":"0.1% Ag","x":1.32,"y":-0.26},{"s":"0.1% Ag","x":1.31,"y":-0.28},{"s":"0.1% Ag","x":1.3,"y":-0.3},{"s":"0.1% Ag","x":1.29,"y":-0.32},{"s":"0.1% Ag","x":1.28,"y":-0.34},{"s":"0.1% Ag","x":1.27,"y":-0.35},{"s":"0.1% Ag","x":1.26,"y":-0.36},{"s":"0.1% Ag","x":1.25,"y":-0.37},{"s":"0.1% Ag","x":1.24,"y":-0.38},{"s":"0.1% Ag","x":1.23,"y":-0.39},{"s":"0.1% Ag","x":1.22,"y":-0.4},{"s":"0.1% Ag","x":1.21,"y":-0.41},{"s":"0.1% Ag","x":1.2,"y":-0.42},{"s":"0.1% Ag","x":1.19,"y":-0.43},{"s":"0.1% Ag","x":1.18,"y":-0.44},{"s":"0.1% Ag","x":1.17,"y":-0.45},{"s":"0.1% Ag","x":1.16,"y":-0.46},{"s":"0.1% Ag","x":1.15,"y":-0.46},{"s":"0.1% Ag","x":1.14,"y":-0.47},
{"s":"0.28% Ag","x":1.125,"y":-1.3},{"s":"0.28% Ag","x":1.13,"y":-1.28},{"s":"0.28% Ag","x":1.14,"y":-1.24},{"s":"0.28% Ag","x":1.15,"y":-1.2},{"s":"0.28% Ag","x":1.16,"y":-1.16},{"s":"0.28% Ag","x":1.17,"y":-1.12},{"s":"0.28% Ag","x":1.18,"y":-1.08},{"s":"0.28% Ag","x":1.19,"y":-1.04},{"s":"0.28% Ag","x":1.2,"y":-1.0},{"s":"0.28% Ag","x":1.21,"y":-0.96},{"s":"0.28% Ag","x":1.22,"y":-0.92},{"s":"0.28% Ag","x":1.23,"y":-0.88},{"s":"0.28% Ag","x":1.24,"y":-0.84},{"s":"0.28% Ag","x":1.25,"y":-0.79},{"s":"0.28% Ag","x":1.26,"y":-0.74},{"s":"0.28% Ag","x":1.27,"y":-0.69},{"s":"0.28% Ag","x":1.28,"y":-0.64},{"s":"0.28% Ag","x":1.29,"y":-0.59},{"s":"0.28% Ag","x":1.3,"y":-0.54},{"s":"0.28% Ag","x":1.31,"y":-0.48},{"s":"0.28% Ag","x":1.32,"y":-0.42},{"s":"0.28% Ag","x":1.33,"y":-0.37},{"s":"0.28% Ag","x":1.34,"y":-0.31},{"s":"0.28% Ag","x":1.35,"y":-0.25},{"s":"0.28% Ag","x":1.36,"y":-0.19},{"s":"0.28% Ag","x":1.37,"y":-0.12},{"s":"0.28% Ag","x":1.38,"y":-0.02},{"s":"0.28% Ag","x":1.39,"y":0.12},{"s":"0.28% Ag","x":1.4,"y":0.5},{"s":"0.28% Ag","x":1.405,"y":0.9},{"s":"0.28% Ag","x":1.41,"y":1.3},{"s":"0.28% Ag","x":1.415,"y":1.7},{"s":"0.28% Ag","x":1.42,"y":2.05},
{"s":"0.28% Ag","x":1.41,"y":1.85},{"s":"0.28% Ag","x":1.4,"y":1.7},{"s":"0.28% Ag","x":1.39,"y":1.58},{"s":"0.28% Ag","x":1.38,"y":1.48},{"s":"0.28% Ag","x":1.37,"y":1.4},{"s":"0.28% Ag","x":1.36,"y":1.33},{"s":"0.28% Ag","x":1.35,"y":1.28},{"s":"0.28% Ag","x":1.34,"y":1.24},{"s":"0.28% Ag","x":1.33,"y":1.2},{"s":"0.28% Ag","x":1.32,"y":1.16},{"s":"0.28% Ag","x":1.31,"y":1.13},{"s":"0.28% Ag","x":1.3,"y":1.1},{"s":"0.28% Ag","x":1.29,"y":1.07},{"s":"0.28% Ag","x":1.28,"y":1.04},{"s":"0.28% Ag","x":1.27,"y":1.01},{"s":"0.28% Ag","x":1.26,"y":0.98},{"s":"0.28% Ag","x":1.25,"y":0.95},{"s":"0.28% Ag","x":1.24,"y":0.92},{"s":"0.28% Ag","x":1.23,"y":0.89},{"s":"0.28% Ag","x":1.22,"y":0.86},{"s":"0.28% Ag","x":1.21,"y":0.83},{"s":"0.28% Ag","x":1.2,"y":0.8},{"s":"0.28% Ag","x":1.19,"y":0.77},{"s":"0.28% Ag","x":1.18,"y":0.74},{"s":"0.28% Ag","x":1.17,"y":0.7},{"s":"0.28% Ag","x":1.16,"y":0.65},{"s":"0.28% Ag","x":1.15,"y":0.58},{"s":"0.28% Ag","x":1.14,"y":0.45},{"s":"0.28% Ag","x":1.135,"y":0.3},{"s":"0.28% Ag","x":1.13,"y":0.0},{"s":"0.28% Ag","x":1.127,"y":-0.5},{"s":"0.28% Ag","x":1.125,"y":-1.0},
{"s":"0.56% Ag","x":1.13,"y":-1.26},{"s":"0.56% Ag","x":1.13,"y":-0.9},{"s":"0.56% Ag","x":1.13,"y":-0.5},{"s":"0.56% Ag","x":1.131,"y":-0.1},{"s":"0.56% Ag","x":1.133,"y":0.2},{"s":"0.56% Ag","x":1.137,"y":0.4},{"s":"0.56% Ag","x":1.14,"y":0.48},{"s":"0.56% Ag","x":1.15,"y":0.6},{"s":"0.56% Ag","x":1.16,"y":0.75},{"s":"0.56% Ag","x":1.17,"y":0.82},{"s":"0.56% Ag","x":1.18,"y":0.88},{"s":"0.56% Ag","x":1.19,"y":0.92},{"s":"0.56% Ag","x":1.2,"y":0.96},{"s":"0.56% Ag","x":1.21,"y":1.0},{"s":"0.56% Ag","x":1.22,"y":1.03},{"s":"0.56% Ag","x":1.23,"y":1.06},{"s":"0.56% Ag","x":1.24,"y":1.09},{"s":"0.56% Ag","x":1.25,"y":1.12},{"s":"0.56% Ag","x":1.26,"y":1.16},{"s":"0.56% Ag","x":1.27,"y":1.21},{"s":"0.56% Ag","x":1.28,"y":1.26},{"s":"0.56% Ag","x":1.29,"y":1.31},{"s":"0.56% Ag","x":1.3,"y":1.37},{"s":"0.56% Ag","x":1.31,"y":1.44},{"s":"0.56% Ag","x":1.32,"y":1.51},{"s":"0.56% Ag","x":1.33,"y":1.6},{"s":"0.56% Ag","x":1.34,"y":1.7},{"s":"0.56% Ag","x":1.35,"y":1.82},{"s":"0.56% Ag","x":1.36,"y":1.94},{"s":"0.56% Ag","x":1.37,"y":2.05},{"s":"0.56% Ag","x":1.38,"y":2.15},{"s":"0.56% Ag","x":1.39,"y":2.3},{"s":"0.56% Ag","x":1.4,"y":2.45},{"s":"0.56% Ag","x":1.405,"y":2.6},{"s":"0.56% Ag","x":1.41,"y":2.8},{"s":"0.56% Ag","x":1.415,"y":3.1},{"s":"0.56% Ag","x":1.42,"y":3.4},
{"s":"0.56% Ag","x":1.418,"y":3.2},{"s":"0.56% Ag","x":1.415,"y":2.9},{"s":"0.56% Ag","x":1.41,"y":2.5},{"s":"0.56% Ag","x":1.405,"y":2.3},{"s":"0.56% Ag","x":1.4,"y":2.15},{"s":"0.56% Ag","x":1.395,"y":1.95},{"s":"0.56% Ag","x":1.39,"y":1.8},{"s":"0.56% Ag","x":1.38,"y":1.45},{"s":"0.56% Ag","x":1.37,"y":1.2},{"s":"0.56% Ag","x":1.36,"y":1.05},{"s":"0.56% Ag","x":1.35,"y":0.88},{"s":"0.56% Ag","x":1.34,"y":0.72},{"s":"0.56% Ag","x":1.33,"y":0.6},{"s":"0.56% Ag","x":1.32,"y":0.47},{"s":"0.56% Ag","x":1.31,"y":0.37},{"s":"0.56% Ag","x":1.3,"y":0.28},{"s":"0.56% Ag","x":1.29,"y":0.18},{"s":"0.56% Ag","x":1.28,"y":0.1},{"s":"0.56% Ag","x":1.27,"y":0.01},{"s":"0.56% Ag","x":1.26,"y":-0.1},{"s":"0.56% Ag","x":1.25,"y":-0.21},{"s":"0.56% Ag","x":1.24,"y":-0.3},{"s":"0.56% Ag","x":1.23,"y":-0.38},{"s":"0.56% Ag","x":1.22,"y":-0.45},{"s":"0.56% Ag","x":1.21,"y":-0.52},{"s":"0.56% Ag","x":1.2,"y":-0.6},{"s":"0.56% Ag","x":1.19,"y":-0.68},{"s":"0.56% Ag","x":1.18,"y":-0.76},{"s":"0.56% Ag","x":1.17,"y":-0.84},{"s":"0.56% Ag","x":1.16,"y":-0.92},{"s":"0.56% Ag","x":1.15,"y":-0.99},{"s":"0.56% Ag","x":1.14,"y":-1.06},{"s":"0.56% Ag","x":1.135,"y":-1.13},{"s":"0.56% Ag","x":1.13,"y":-1.2}
],
"d": [
{"s":"Pb","x":1.1,"y":-1.3},{"s":"Pb","x":1.1,"y":-0.3},{"s":"Pb","x":1.102,"y":0.6},{"s":"Pb","x":1.105,"y":1.2},{"s":"Pb","x":1.11,"y":1.4},{"s":"Pb","x":1.12,"y":1.5},{"s":"Pb","x":1.13,"y":1.6},{"s":"Pb","x":1.14,"y":1.7},{"s":"Pb","x":1.15,"y":1.8},{"s":"Pb","x":1.16,"y":1.9},{"s":"Pb","x":1.17,"y":2.0},{"s":"Pb","x":1.18,"y":2.2},{"s":"Pb","x":1.19,"y":2.4},{"s":"Pb","x":1.2,"y":2.6},{"s":"Pb","x":1.21,"y":2.8},{"s":"Pb","x":1.22,"y":3.1},{"s":"Pb","x":1.23,"y":3.4},{"s":"Pb","x":1.24,"y":3.8},{"s":"Pb","x":1.25,"y":4.2},{"s":"Pb","x":1.26,"y":4.7},{"s":"Pb","x":1.27,"y":5.3},{"s":"Pb","x":1.28,"y":5.9},{"s":"Pb","x":1.29,"y":6.6},{"s":"Pb","x":1.3,"y":7.4},{"s":"Pb","x":1.31,"y":8.3},{"s":"Pb","x":1.32,"y":9.3},{"s":"Pb","x":1.33,"y":10.4},{"s":"Pb","x":1.34,"y":11.5},{"s":"Pb","x":1.35,"y":12.6},{"s":"Pb","x":1.36,"y":13.7},{"s":"Pb","x":1.37,"y":14.8},{"s":"Pb","x":1.38,"y":15.9},{"s":"Pb","x":1.39,"y":16.9},{"s":"Pb","x":1.4,"y":17.8},{"s":"Pb","x":1.41,"y":18.6},{"s":"Pb","x":1.42,"y":19.3},
{"s":"Pb","x":1.42,"y":16.0},{"s":"Pb","x":1.41,"y":14.5},{"s":"Pb","x":1.4,"y":13.2},{"s":"Pb","x":1.39,"y":11.9},{"s":"Pb","x":1.38,"y":10.6},{"s":"Pb","x":1.37,"y":9.4},{"s":"Pb","x":1.36,"y":8.3},{"s":"Pb","x":1.35,"y":7.3},{"s":"Pb","x":1.34,"y":6.3},{"s":"Pb","x":1.33,"y":5.4},{"s":"Pb","x":1.32,"y":4.6},{"s":"Pb","x":1.31,"y":3.9},{"s":"Pb","x":1.3,"y":3.3},{"s":"Pb","x":1.29,"y":2.7},{"s":"Pb","x":1.28,"y":2.2},{"s":"Pb","x":1.27,"y":1.8},{"s":"Pb","x":1.26,"y":1.4},{"s":"Pb","x":1.25,"y":1.1},{"s":"Pb","x":1.24,"y":0.8},{"s":"Pb","x":1.23,"y":0.5},{"s":"Pb","x":1.22,"y":0.3},{"s":"Pb","x":1.21,"y":0.1},{"s":"Pb","x":1.2,"y":-0.1},{"s":"Pb","x":1.19,"y":-0.3},{"s":"Pb","x":1.18,"y":-0.45},{"s":"Pb","x":1.17,"y":-0.6},{"s":"Pb","x":1.16,"y":-0.7},{"s":"Pb","x":1.15,"y":-0.8},{"s":"Pb","x":1.14,"y":-0.9},{"s":"Pb","x":1.13,"y":-1.0},{"s":"Pb","x":1.12,"y":-1.0},{"s":"Pb","x":1.11,"y":-1.1},{"s":"Pb","x":1.1,"y":-1.3},
{"s":"0.05% Ag","x":1.135,"y":-1.5},{"s":"0.05% Ag","x":1.137,"y":-0.5},{"s":"0.05% Ag","x":1.14,"y":0.4},{"s":"0.05% Ag","x":1.15,"y":0.9},{"s":"0.05% Ag","x":1.16,"y":1.2},{"s":"0.05% Ag","x":1.17,"y":1.5},{"s":"0.05% Ag","x":1.18,"y":1.8},{"s":"0.05% Ag","x":1.19,"y":2.0},{"s":"0.05% Ag","x":1.2,"y":2.3},{"s":"0.05% Ag","x":1.21,"y":2.5},{"s":"0.05% Ag","x":1.22,"y":2.8},{"s":"0.05% Ag","x":1.23,"y":3.1},{"s":"0.05% Ag","x":1.24,"y":3.4},{"s":"0.05% Ag","x":1.25,"y":3.8},{"s":"0.05% Ag","x":1.26,"y":4.2},{"s":"0.05% Ag","x":1.27,"y":4.7},{"s":"0.05% Ag","x":1.28,"y":5.3},{"s":"0.05% Ag","x":1.29,"y":5.9},{"s":"0.05% Ag","x":1.3,"y":6.6},{"s":"0.05% Ag","x":1.31,"y":7.4},{"s":"0.05% Ag","x":1.32,"y":8.3},{"s":"0.05% Ag","x":1.33,"y":9.2},{"s":"0.05% Ag","x":1.34,"y":10.2},{"s":"0.05% Ag","x":1.35,"y":11.2},{"s":"0.05% Ag","x":1.36,"y":12.2},{"s":"0.05% Ag","x":1.37,"y":13.3},{"s":"0.05% Ag","x":1.38,"y":14.4},{"s":"0.05% Ag","x":1.39,"y":15.4},{"s":"0.05% Ag","x":1.4,"y":16.4},{"s":"0.05% Ag","x":1.41,"y":17.3},{"s":"0.05% Ag","x":1.42,"y":18.0},
{"s":"0.05% Ag","x":1.42,"y":15.8},{"s":"0.05% Ag","x":1.41,"y":14.6},{"s":"0.05% Ag","x":1.4,"y":13.5},{"s":"0.05% Ag","x":1.39,"y":12.4},{"s":"0.05% Ag","x":1.38,"y":11.3},{"s":"0.05% Ag","x":1.37,"y":10.2},{"s":"0.05% Ag","x":1.36,"y":9.2},{"s":"0.05% Ag","x":1.35,"y":8.3},{"s":"0.05% Ag","x":1.34,"y":7.4},{"s":"0.05% Ag","x":1.33,"y":6.5},{"s":"0.05% Ag","x":1.32,"y":5.7},{"s":"0.05% Ag","x":1.31,"y":5.0},{"s":"0.05% Ag","x":1.3,"y":4.3},{"s":"0.05% Ag","x":1.29,"y":3.7},{"s":"0.05% Ag","x":1.28,"y":3.1},{"s":"0.05% Ag","x":1.27,"y":2.6},{"s":"0.05% Ag","x":1.26,"y":2.1},{"s":"0.05% Ag","x":1.25,"y":1.7},{"s":"0.05% Ag","x":1.24,"y":1.3},{"s":"0.05% Ag","x":1.23,"y":0.9},{"s":"0.05% Ag","x":1.22,"y":0.6},{"s":"0.05% Ag","x":1.21,"y":0.3},{"s":"0.05% Ag","x":1.2,"y":0.0},{"s":"0.05% Ag","x":1.19,"y":-0.2},{"s":"0.05% Ag","x":1.18,"y":-0.4},{"s":"0.05% Ag","x":1.17,"y":-0.6},{"s":"0.05% Ag","x":1.16,"y":-0.8},{"s":"0.05% Ag","x":1.15,"y":-1.0},{"s":"0.05% Ag","x":1.14,"y":-1.2},{"s":"0.05% Ag","x":1.135,"y":-1.4},
{"s":"0.1% Ag","x":1.135,"y":-1.0},{"s":"0.1% Ag","x":1.137,"y":0},{"s":"0.1% Ag","x":1.14,"y":1.0},{"s":"0.1% Ag","x":1.15,"y":1.7},{"s":"0.1% Ag","x":1.16,"y":2.1},{"s":"0.1% Ag","x":1.17,"y":2.4},{"s":"0.1% Ag","x":1.18,"y":2.7},{"s":"0.1% Ag","x":1.19,"y":3.0},{"s":"0.1% Ag","x":1.2,"y":3.3},{"s":"0.1% Ag","x":1.21,"y":3.6},{"s":"0.1% Ag","x":1.22,"y":3.9},{"s":"0.1% Ag","x":1.23,"y":4.3},{"s":"0.1% Ag","x":1.24,"y":4.7},{"s":"0.1% Ag","x":1.25,"y":5.1},{"s":"0.1% Ag","x":1.26,"y":5.6},{"s":"0.1% Ag","x":1.27,"y":6.2},{"s":"0.1% Ag","x":1.28,"y":6.9},{"s":"0.1% Ag","x":1.29,"y":7.8},{"s":"0.1% Ag","x":1.3,"y":8.8},{"s":"0.1% Ag","x":1.31,"y":9.8},{"s":"0.1% Ag","x":1.32,"y":10.9},{"s":"0.1% Ag","x":1.33,"y":12.1},{"s":"0.1% Ag","x":1.34,"y":13.4},{"s":"0.1% Ag","x":1.35,"y":14.6},{"s":"0.1% Ag","x":1.36,"y":15.6},{"s":"0.1% Ag","x":1.37,"y":16.4},{"s":"0.1% Ag","x":1.38,"y":17.2},{"s":"0.1% Ag","x":1.39,"y":18.0},{"s":"0.1% Ag","x":1.4,"y":18.7},{"s":"0.1% Ag","x":1.41,"y":19.3},{"s":"0.1% Ag","x":1.42,"y":19.8},
{"s":"0.1% Ag","x":1.42,"y":17.5},{"s":"0.1% Ag","x":1.41,"y":16.3},{"s":"0.1% Ag","x":1.4,"y":15.1},{"s":"0.1% Ag","x":1.39,"y":13.9},{"s":"0.1% Ag","x":1.38,"y":12.7},{"s":"0.1% Ag","x":1.37,"y":11.5},{"s":"0.1% Ag","x":1.36,"y":10.4},{"s":"0.1% Ag","x":1.35,"y":9.3},{"s":"0.1% Ag","x":1.34,"y":8.3},{"s":"0.1% Ag","x":1.33,"y":7.3},{"s":"0.1% Ag","x":1.32,"y":6.4},{"s":"0.1% Ag","x":1.31,"y":5.6},{"s":"0.1% Ag","x":1.3,"y":4.8},{"s":"0.1% Ag","x":1.29,"y":4.1},{"s":"0.1% Ag","x":1.28,"y":3.5},{"s":"0.1% Ag","x":1.27,"y":3.0},{"s":"0.1% Ag","x":1.26,"y":2.5},{"s":"0.1% Ag","x":1.25,"y":2.0},{"s":"0.1% Ag","x":1.24,"y":1.6},{"s":"0.1% Ag","x":1.23,"y":1.2},{"s":"0.1% Ag","x":1.22,"y":0.9},{"s":"0.1% Ag","x":1.21,"y":0.6},{"s":"0.1% Ag","x":1.2,"y":0.3},{"s":"0.1% Ag","x":1.19,"y":0.0},{"s":"0.1% Ag","x":1.18,"y":-0.2},{"s":"0.1% Ag","x":1.17,"y":-0.4},{"s":"0.1% Ag","x":1.16,"y":-0.6},{"s":"0.1% Ag","x":1.15,"y":-0.8},{"s":"0.1% Ag","x":1.14,"y":-0.9},{"s":"0.1% Ag","x":1.135,"y":-1.0},
{"s":"0.28% Ag","x":1.13,"y":-1.4},{"s":"0.28% Ag","x":1.135,"y":-0.2},{"s":"0.28% Ag","x":1.14,"y":0.6},{"s":"0.28% Ag","x":1.15,"y":1.2},{"s":"0.28% Ag","x":1.16,"y":1.6},{"s":"0.28% Ag","x":1.17,"y":1.9},{"s":"0.28% Ag","x":1.18,"y":2.2},{"s":"0.28% Ag","x":1.19,"y":2.5},{"s":"0.28% Ag","x":1.2,"y":2.7},{"s":"0.28% Ag","x":1.21,"y":3.0},{"s":"0.28% Ag","x":1.22,"y":3.3},{"s":"0.28% Ag","x":1.23,"y":3.6},{"s":"0.28% Ag","x":1.24,"y":4.0},{"s":"0.28% Ag","x":1.25,"y":4.4},{"s":"0.28% Ag","x":1.26,"y":4.9},{"s":"0.28% Ag","x":1.27,"y":5.5},{"s":"0.28% Ag","x":1.28,"y":6.1},{"s":"0.28% Ag","x":1.29,"y":6.8},{"s":"0.28% Ag","x":1.3,"y":7.6},{"s":"0.28% Ag","x":1.31,"y":8.5},{"s":"0.28% Ag","x":1.32,"y":9.5},{"s":"0.28% Ag","x":1.33,"y":10.6},{"s":"0.28% Ag","x":1.34,"y":11.8},{"s":"0.28% Ag","x":1.35,"y":13.0},{"s":"0.28% Ag","x":1.36,"y":14.2},{"s":"0.28% Ag","x":1.37,"y":15.4},{"s":"0.28% Ag","x":1.38,"y":16.5},{"s":"0.28% Ag","x":1.39,"y":17.5},{"s":"0.28% Ag","x":1.4,"y":18.5},{"s":"0.28% Ag","x":1.41,"y":19.4},{"s":"0.28% Ag","x":1.42,"y":20.3},
{"s":"0.28% Ag","x":1.42,"y":16.5},{"s":"0.28% Ag","x":1.41,"y":15.0},{"s":"0.28% Ag","x":1.4,"y":13.7},{"s":"0.28% Ag","x":1.39,"y":12.2},{"s":"0.28% Ag","x":1.38,"y":10.7},{"s":"0.28% Ag","x":1.37,"y":9.3},{"s":"0.28% Ag","x":1.36,"y":8.0},{"s":"0.28% Ag","x":1.35,"y":6.8},{"s":"0.28% Ag","x":1.34,"y":5.8},{"s":"0.28% Ag","x":1.33,"y":4.9},{"s":"0.28% Ag","x":1.32,"y":4.1},{"s":"0.28% Ag","x":1.31,"y":3.5},{"s":"0.28% Ag","x":1.3,"y":2.9},{"s":"0.28% Ag","x":1.29,"y":2.5},{"s":"0.28% Ag","x":1.28,"y":2.1},{"s":"0.28% Ag","x":1.27,"y":1.8},{"s":"0.28% Ag","x":1.26,"y":1.5},{"s":"0.28% Ag","x":1.25,"y":1.2},{"s":"0.28% Ag","x":1.24,"y":0.9},{"s":"0.28% Ag","x":1.23,"y":0.6},{"s":"0.28% Ag","x":1.22,"y":0.3},{"s":"0.28% Ag","x":1.21,"y":0.1},{"s":"0.28% Ag","x":1.2,"y":-0.1},{"s":"0.28% Ag","x":1.19,"y":-0.3},{"s":"0.28% Ag","x":1.18,"y":-0.5},{"s":"0.28% Ag","x":1.17,"y":-0.7},{"s":"0.28% Ag","x":1.16,"y":-0.9},{"s":"0.28% Ag","x":1.15,"y":-1.1},{"s":"0.28% Ag","x":1.14,"y":-1.3},{"s":"0.28% Ag","x":1.13,"y":-1.4},
{"s":"0.56% Ag","x":1.13,"y":-1.8},{"s":"0.56% Ag","x":1.133,"y":-0.8},{"s":"0.56% Ag","x":1.136,"y":0.3},{"s":"0.56% Ag","x":1.14,"y":1.2},{"s":"0.56% Ag","x":1.15,"y":2.3},{"s":"0.56% Ag","x":1.16,"y":3.3},{"s":"0.56% Ag","x":1.17,"y":3.8},{"s":"0.56% Ag","x":1.18,"y":4.3},{"s":"0.56% Ag","x":1.19,"y":4.9},{"s":"0.56% Ag","x":1.2,"y":5.3},{"s":"0.56% Ag","x":1.21,"y":5.7},{"s":"0.56% Ag","x":1.22,"y":6.1},{"s":"0.56% Ag","x":1.23,"y":6.6},{"s":"0.56% Ag","x":1.24,"y":7.1},{"s":"0.56% Ag","x":1.25,"y":7.6},{"s":"0.56% Ag","x":1.26,"y":8.2},{"s":"0.56% Ag","x":1.27,"y":8.8},{"s":"0.56% Ag","x":1.28,"y":9.5},{"s":"0.56% Ag","x":1.29,"y":10.2},{"s":"0.56% Ag","x":1.3,"y":11.2},{"s":"0.56% Ag","x":1.31,"y":12.2},{"s":"0.56% Ag","x":1.32,"y":13.4},{"s":"0.56% Ag","x":1.33,"y":14.8},{"s":"0.56% Ag","x":1.34,"y":16.3},{"s":"0.56% Ag","x":1.35,"y":17.9},{"s":"0.56% Ag","x":1.36,"y":19.3},{"s":"0.56% Ag","x":1.37,"y":21.2},{"s":"0.56% Ag","x":1.38,"y":22.8},{"s":"0.56% Ag","x":1.39,"y":24.2},{"s":"0.56% Ag","x":1.4,"y":25.8},{"s":"0.56% Ag","x":1.41,"y":27.5},{"s":"0.56% Ag","x":1.42,"y":29.8},
{"s":"0.56% Ag","x":1.415,"y":27.0},{"s":"0.56% Ag","x":1.41,"y":25.3},{"s":"0.56% Ag","x":1.4,"y":22.8},{"s":"0.56% Ag","x":1.39,"y":20.7},{"s":"0.56% Ag","x":1.38,"y":18.8},{"s":"0.56% Ag","x":1.37,"y":17.0},{"s":"0.56% Ag","x":1.36,"y":15.3},{"s":"0.56% Ag","x":1.35,"y":13.8},{"s":"0.56% Ag","x":1.34,"y":12.3},{"s":"0.56% Ag","x":1.33,"y":10.9},{"s":"0.56% Ag","x":1.32,"y":9.6},{"s":"0.56% Ag","x":1.31,"y":8.4},{"s":"0.56% Ag","x":1.3,"y":7.3},{"s":"0.56% Ag","x":1.29,"y":6.3},{"s":"0.56% Ag","x":1.28,"y":5.4},{"s":"0.56% Ag","x":1.27,"y":4.6},{"s":"0.56% Ag","x":1.26,"y":3.8},{"s":"0.56% Ag","x":1.25,"y":3.1},{"s":"0.56% Ag","x":1.24,"y":2.5},{"s":"0.56% Ag","x":1.23,"y":1.9},{"s":"0.56% Ag","x":1.22,"y":1.4},{"s":"0.56% Ag","x":1.21,"y":0.9},{"s":"0.56% Ag","x":1.2,"y":0.5},{"s":"0.56% Ag","x":1.19,"y":0.1},{"s":"0.56% Ag","x":1.18,"y":-0.3},{"s":"0.56% Ag","x":1.17,"y":-0.7},{"s":"0.56% Ag","x":1.16,"y":-1.0},{"s":"0.56% Ag","x":1.15,"y":-1.3},{"s":"0.56% Ag","x":1.14,"y":-1.7}
]
}
}
